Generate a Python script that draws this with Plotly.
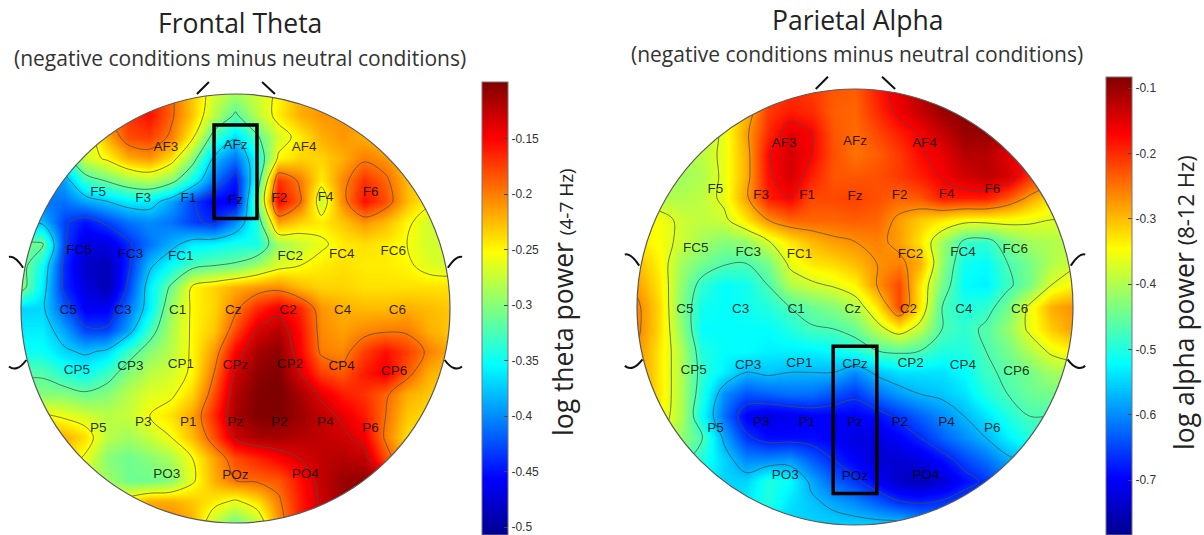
import numpy as np
import plotly.graph_objects as go

W, H = 1204, 535

grid_x = [round(-1 + 0.1 * i, 1) for i in range(21)]
grid_y = [round(1 - 0.1 * i, 1) for i in range(21)]

theta_z = [
    [-.3,-.3,-.3,-.25,-.2,-.17,-.16,-.19,-.23,-.27,-.29,-.27,-.25,-.22,-.21,-.21,-.21,-.22,-.23,-.25,-.25],
    [-.3,-.3,-.3,-.27,-.2,-.17,-.155,-.19,-.23,-.28,-.32,-.28,-.245,-.22,-.21,-.21,-.21,-.22,-.23,-.25,-.25],
    [-.35,-.33,-.32,-.28,-.22,-.18,-.175,-.2,-.25,-.33,-.37,-.32,-.27,-.245,-.22,-.21,-.22,-.23,-.24,-.25,-.25],
    [-.38,-.37,-.34,-.27,-.25,-.22,-.21,-.24,-.3,-.38,-.41,-.35,-.25,-.235,-.235,-.22,-.2,-.21,-.23,-.25,-.25],
    [-.4,-.4,-.39,-.33,-.31,-.29,-.28,-.3,-.35,-.41,-.45,-.34,-.17,-.2,-.245,-.205,-.17,-.19,-.225,-.24,-.25],
    [-.41,-.41,-.41,-.39,-.375,-.36,-.36,-.39,-.43,-.46,-.46,-.31,-.15,-.19,-.275,-.205,-.155,-.18,-.225,-.25,-.26],
    [-.38,-.38,-.43,-.45,-.43,-.41,-.40,-.41,-.43,-.44,-.40,-.34,-.215,-.235,-.245,-.23,-.21,-.225,-.25,-.27,-.27],
    [-.31,-.31,-.43,-.47,-.47,-.44,-.41,-.385,-.36,-.355,-.345,-.345,-.29,-.275,-.26,-.245,-.24,-.245,-.255,-.27,-.27],
    [-.3,-.35,-.44,-.48,-.49,-.44,-.38,-.35,-.325,-.315,-.31,-.29,-.265,-.255,-.245,-.24,-.245,-.245,-.25,-.265,-.27],
    [-.3,-.36,-.44,-.47,-.49,-.43,-.36,-.31,-.25,-.235,-.22,-.21,-.205,-.225,-.235,-.235,-.24,-.24,-.24,-.24,-.24],
    [-.37,-.37,-.42,-.46,-.46,-.41,-.36,-.29,-.25,-.235,-.2,-.165,-.145,-.165,-.21,-.22,-.225,-.225,-.22,-.225,-.23],
    [-.36,-.36,-.39,-.43,-.43,-.39,-.33,-.285,-.25,-.23,-.18,-.135,-.12,-.155,-.205,-.215,-.205,-.2,-.2,-.22,-.23],
    [-.35,-.35,-.37,-.38,-.37,-.33,-.3,-.28,-.25,-.21,-.15,-.115,-.105,-.15,-.2,-.205,-.175,-.155,-.175,-.2,-.22],
    [-.32,-.32,-.34,-.35,-.33,-.3,-.28,-.27,-.25,-.195,-.13,-.105,-.1,-.135,-.175,-.185,-.16,-.145,-.185,-.22,-.23],
    [-.3,-.3,-.3,-.31,-.3,-.28,-.265,-.26,-.235,-.18,-.12,-.1,-.095,-.115,-.14,-.16,-.17,-.19,-.22,-.23,-.24],
    [-.25,-.25,-.26,-.27,-.28,-.275,-.255,-.24,-.215,-.165,-.115,-.1,-.1,-.11,-.125,-.14,-.16,-.195,-.23,-.24,-.24],
    [-.22,-.22,-.22,-.24,-.28,-.29,-.275,-.255,-.225,-.18,-.13,-.115,-.115,-.12,-.125,-.13,-.145,-.2,-.24,-.24,-.24],
    [-.24,-.24,-.24,-.26,-.3,-.31,-.3,-.285,-.255,-.215,-.18,-.165,-.15,-.135,-.125,-.12,-.125,-.18,-.22,-.22,-.22],
    [-.28,-.28,-.28,-.28,-.29,-.31,-.31,-.3,-.26,-.22,-.195,-.19,-.185,-.155,-.125,-.11,-.105,-.12,-.15,-.15,-.15],
    [-.26,-.26,-.26,-.26,-.26,-.24,-.22,-.22,-.23,-.245,-.26,-.24,-.2,-.16,-.13,-.11,-.11,-.11,-.12,-.12,-.12],
    [-.24,-.24,-.24,-.24,-.24,-.22,-.2,-.2,-.22,-.28,-.31,-.28,-.21,-.16,-.13,-.11,-.11,-.11,-.11,-.11,-.11],
]

alpha_z = [
    [-.38,-.38,-.38,-.38,-.36,-.3,-.22,-.2,-.21,-.23,-.235,-.19,-.15,-.12,-.09,-.09,-.09,-.09,-.1,-.1,-.1],
    [-.38,-.38,-.38,-.38,-.36,-.3,-.21,-.19,-.2,-.235,-.24,-.2,-.16,-.13,-.1,-.09,-.09,-.09,-.1,-.1,-.1],
    [-.4,-.4,-.4,-.4,-.36,-.28,-.2,-.15,-.17,-.23,-.245,-.22,-.19,-.165,-.13,-.1,-.1,-.11,-.12,-.12,-.12],
    [-.41,-.41,-.41,-.39,-.36,-.29,-.175,-.14,-.17,-.225,-.25,-.235,-.21,-.175,-.155,-.12,-.12,-.15,-.17,-.17,-.17],
    [-.41,-.41,-.41,-.4,-.36,-.29,-.18,-.14,-.19,-.23,-.23,-.225,-.21,-.19,-.165,-.14,-.125,-.14,-.2,-.22,-.22],
    [-.4,-.4,-.4,-.39,-.36,-.28,-.19,-.17,-.22,-.22,-.215,-.225,-.24,-.23,-.19,-.19,-.19,-.23,-.28,-.33,-.33],
    [-.34,-.35,-.38,-.39,-.38,-.33,-.27,-.24,-.24,-.24,-.235,-.24,-.28,-.31,-.33,-.35,-.35,-.35,-.36,-.37,-.37],
    [-.33,-.35,-.38,-.41,-.43,-.42,-.375,-.33,-.3,-.28,-.27,-.26,-.28,-.33,-.41,-.48,-.49,-.44,-.41,-.4,-.39],
    [-.3,-.34,-.41,-.44,-.465,-.47,-.44,-.36,-.33,-.32,-.3,-.27,-.26,-.29,-.42,-.51,-.52,-.47,-.44,-.4,-.38],
    [-.28,-.33,-.42,-.49,-.52,-.51,-.47,-.4,-.38,-.365,-.34,-.27,-.22,-.33,-.44,-.52,-.53,-.48,-.44,-.37,-.34],
    [-.26,-.32,-.43,-.51,-.52,-.51,-.5,-.47,-.45,-.43,-.4,-.33,-.22,-.33,-.47,-.5,-.49,-.44,-.36,-.29,-.27],
    [-.26,-.32,-.42,-.52,-.52,-.52,-.52,-.5,-.475,-.47,-.45,-.39,-.34,-.39,-.47,-.49,-.46,-.42,-.36,-.31,-.28],
    [-.27,-.33,-.40,-.5,-.52,-.52,-.53,-.53,-.53,-.52,-.5,-.47,-.46,-.47,-.5,-.5,-.47,-.44,-.4,-.36,-.34],
    [-.27,-.33,-.40,-.49,-.53,-.57,-.56,-.57,-.57,-.57,-.6,-.56,-.54,-.54,-.54,-.52,-.48,-.46,-.44,-.41,-.4],
    [-.27,-.33,-.40,-.5,-.6,-.64,-.63,-.62,-.62,-.64,-.66,-.62,-.59,-.57,-.56,-.54,-.5,-.47,-.45,-.44,-.44],
    [-.3,-.34,-.40,-.52,-.62,-.7,-.72,-.71,-.7,-.7,-.7,-.69,-.66,-.63,-.6,-.57,-.54,-.5,-.47,-.47,-.47],
    [-.35,-.36,-.42,-.47,-.58,-.66,-.69,-.69,-.69,-.7,-.72,-.72,-.7,-.67,-.63,-.6,-.57,-.53,-.5,-.5,-.5],
    [-.42,-.42,-.45,-.5,-.55,-.6,-.6,-.59,-.63,-.67,-.7,-.73,-.73,-.72,-.69,-.65,-.62,-.58,-.56,-.56,-.56],
    [-.5,-.5,-.5,-.52,-.55,-.55,-.5,-.52,-.58,-.63,-.66,-.7,-.74,-.75,-.73,-.69,-.66,-.62,-.6,-.6,-.6],
    [-.55,-.55,-.55,-.55,-.55,-.53,-.5,-.54,-.56,-.58,-.6,-.63,-.66,-.67,-.66,-.64,-.62,-.6,-.6,-.6,-.6],
    [-.55,-.55,-.55,-.55,-.55,-.55,-.55,-.55,-.55,-.55,-.55,-.55,-.55,-.58,-.6,-.6,-.6,-.6,-.6,-.6,-.6],
]

electrodes = ["AF3","AFz","AF4","F5","F3","F1","Fz","F2","F4","F6",
              "FC5","FC3","FC1","FC2","FC4","FC6",
              "C5","C3","C1","Cz","C2","C4","C6",
              "CP5","CP3","CP1","CPz","CP2","CP4","CP6",
              "P5","P3","P1","Pz","P2","P4","P6",
              "PO3","POz","PO4"]
electrode_x = [-.325,0,.32,-.64,-.43,-.22,0,.205,.42,.63,
               -.73,-.49,-.255,.255,.495,.735,
               -.78,-.525,-.27,-.01,.245,.50,.755,
               -.74,-.49,-.255,0,.255,.495,.74,
               -.64,-.43,-.22,0,.205,.42,.63,
               -.32,0,.325]
electrode_y = [.75,.76,.75,.54,.51,.51,.505,.51,.515,.54,
               .27,.25,.24,.24,.25,.265,
               -.01,-.01,-.01,-.01,-.01,-.01,-.01,
               -.29,-.27,-.26,-.265,-.26,-.27,-.295,
               -.56,-.53,-.53,-.53,-.53,-.53,-.56,
               -.775,-.78,-.775]

theta_ticks = [-.15,-.2,-.25,-.3,-.35,-.4,-.45,-.5]
theta_labels = ["-0.15","-0.2","-0.25","-0.3","-0.35","-0.4","-0.45","-0.5"]
alpha_ticks = [-.1,-.2,-.3,-.4,-.5,-.6,-.7]
alpha_labels = ["-0.1","-0.2","-0.3","-0.4","-0.5","-0.6","-0.7"]
theta_range = (-.507, -.099)
alpha_range = (-.784, -.083)

jet = [[0,"#00008f"],[.125,"#0000ff"],[.375,"#00ffff"],[.625,"#ffff00"],[.875,"#ff0000"],[1,"#800000"]]
XR = (-1.09, 1.09)
YR = (-1.04, 1.08)
LABEL_FONT = "Liberation Sans"
TITLE_FONT = "Open Sans"


def add_panel(fig, n, cx, cy, r, z, zr, ticks, labels, lev, cb_x, cb_top, box):
    sfx = "" if n == 1 else str(n)
    fig.update_layout({
        "xaxis" + sfx: dict(domain=[(cx + XR[0] * r) / W, (cx + XR[1] * r) / W], range=XR, visible=False, fixedrange=True),
        "yaxis" + sfx: dict(domain=[1 - (cy - YR[0] * r) / H, 1 - (cy - YR[1] * r) / H], range=YR, visible=False, fixedrange=True),
    })
    xa, ya = "x" + sfx, "y" + sfx
    fig.add_trace(go.Heatmap(
        x=grid_x, y=grid_y, z=z, zmin=zr[0], zmax=zr[1], colorscale=jet, zsmooth="best",
        xaxis=xa, yaxis=ya, hoverinfo="skip",
        colorbar=dict(x=cb_x / W, xanchor="left", xpad=0, ypad=0, y=0, yanchor="bottom",
                      len=(H - cb_top) / H, thickness=26, outlinecolor="#777", outlinewidth=1,
                      tickvals=ticks, ticktext=labels, ticks="inside", ticklen=4, tickcolor="#444",
                      tickfont=dict(family=LABEL_FONT, size=12, color="#333"))))
    fig.add_trace(go.Contour(
        x=grid_x, y=grid_y, z=z, showscale=False, xaxis=xa, yaxis=ya, hoverinfo="skip",
        autocontour=False, contours=dict(coloring="none", start=lev[0], end=lev[1], size=lev[2]),
        line=dict(color="rgba(70,80,70,0.75)", width=1, smoothing=1.0)))
    fig.add_trace(go.Scatter(
        x=electrode_x, y=electrode_y, text=electrodes, mode="text", xaxis=xa, yaxis=ya, hoverinfo="skip",
        textfont=dict(family=LABEL_FONT, size=13.5, color="rgba(0,0,0,0.82)"), showlegend=False))
    # white mask outside the scalp circle
    t = np.linspace(0, 2 * np.pi, 361)[:-1]
    ring = "M" + "L".join(f"{np.cos(a):.4f},{np.sin(a):.4f}" for a in t) + "Z"
    outer = "M-1.5,-1.5L1.5,-1.5L1.5,1.5L-1.5,1.5Z"
    fig.add_shape(type="path", path=outer + ring, xref=xa, yref=ya, fillcolor="white",
                  fillrule="evenodd", line_width=0, layer="above")
    # cover the plot-area edge below the circle
    fig.add_shape(type="rect", xref="paper", yref="paper", x0=(cx - 1.09 * r - 2) / W, x1=(cx + 1.09 * r + 2) / W,
                  y0=0, y1=1 - (cy + r + 3) / H, fillcolor="white", line_width=0, layer="above")
    fig.add_shape(type="circle", x0=-1, x1=1, y0=-1, y1=1, xref=xa, yref=ya,
                  line=dict(color="#5a5a5a", width=1.2), layer="above")
    fig.add_shape(type="rect", x0=box[0], x1=box[1], y0=box[2], y1=box[3], xref=xa, yref=ya,
                  line=dict(color="black", width=3.5), layer="above")
    # nose and ears
    marks = ["M-.18,1.0L-.124,1.056", "M.124,1.056L.184,1.0",
             "M-1.056,.24Q-1.03,.25 -.99,.19", "M1.056,.24Q1.03,.25 .99,.19",
             "M-1.056,-.27Q-1.02,-.30 -.975,-.24", "M1.056,-.27Q1.02,-.30 .975,-.24"]
    for p in marks:
        fig.add_shape(type="path", path=p, xref=xa, yref=ya,
                      line=dict(color="#111", width=2), layer="above")
    # matching tick stubs on the left edge of the colour bar
    barh = (H - cb_top) / H
    for v in ticks:
        yy = (v - zr[0]) / (zr[1] - zr[0]) * barh
        fig.add_shape(type="line", xref="paper", yref="paper", x0=cb_x / W, x1=(cb_x + 4) / W,
                      y0=yy, y1=yy, line=dict(color="#444", width=1), layer="above")


fig = go.Figure()
add_panel(fig, 1, 235.5, 308.5, 214.5, theta_z, theta_range, theta_ticks, theta_labels,
          (-.435, -.135, .06), 482, 82, (-.1, .1, .42, .855))
add_panel(fig, 2, 855, 307, 218, alpha_z, alpha_range, alpha_ticks, alpha_labels,
          (-.67, -.17, .1), 1106, 77, (-.1, .1, -.855, -.18))


def note(text, px, py, size, angle=0, color="#222", family=TITLE_FONT):
    fig.add_annotation(text=text, x=px / W, y=1 - py / H, xref="paper", yref="paper", showarrow=False,
                       textangle=angle, font=dict(family=family, size=size, color=color),
                       xanchor="center", yanchor="middle")


SUB = "(negative conditions minus neutral conditions)"
note("Frontal Theta", 240, 23, 26.5)
note("Parietal Alpha", 857, 20, 26.5)
note(SUB, 240, 58, 21, color="#333")
note(SUB, 857, 54, 21, color="#333")
note('log theta power <span style="font-size:19px">(4-7 Hz)</span>', 563, 302, 26.5, angle=-90)
note('log alpha power <span style="font-size:22px">(8-12 Hz)</span>', 1184, 303, 26.5, angle=-90)

fig.update_layout(width=W, height=H, margin=dict(l=0, r=0, t=0, b=0), paper_bgcolor="white",
                  plot_bgcolor="white", showlegend=False)
fig.write_html("out.html", post_script="document.body.style.margin='0';",
               config=dict(displayModeBar=False))
